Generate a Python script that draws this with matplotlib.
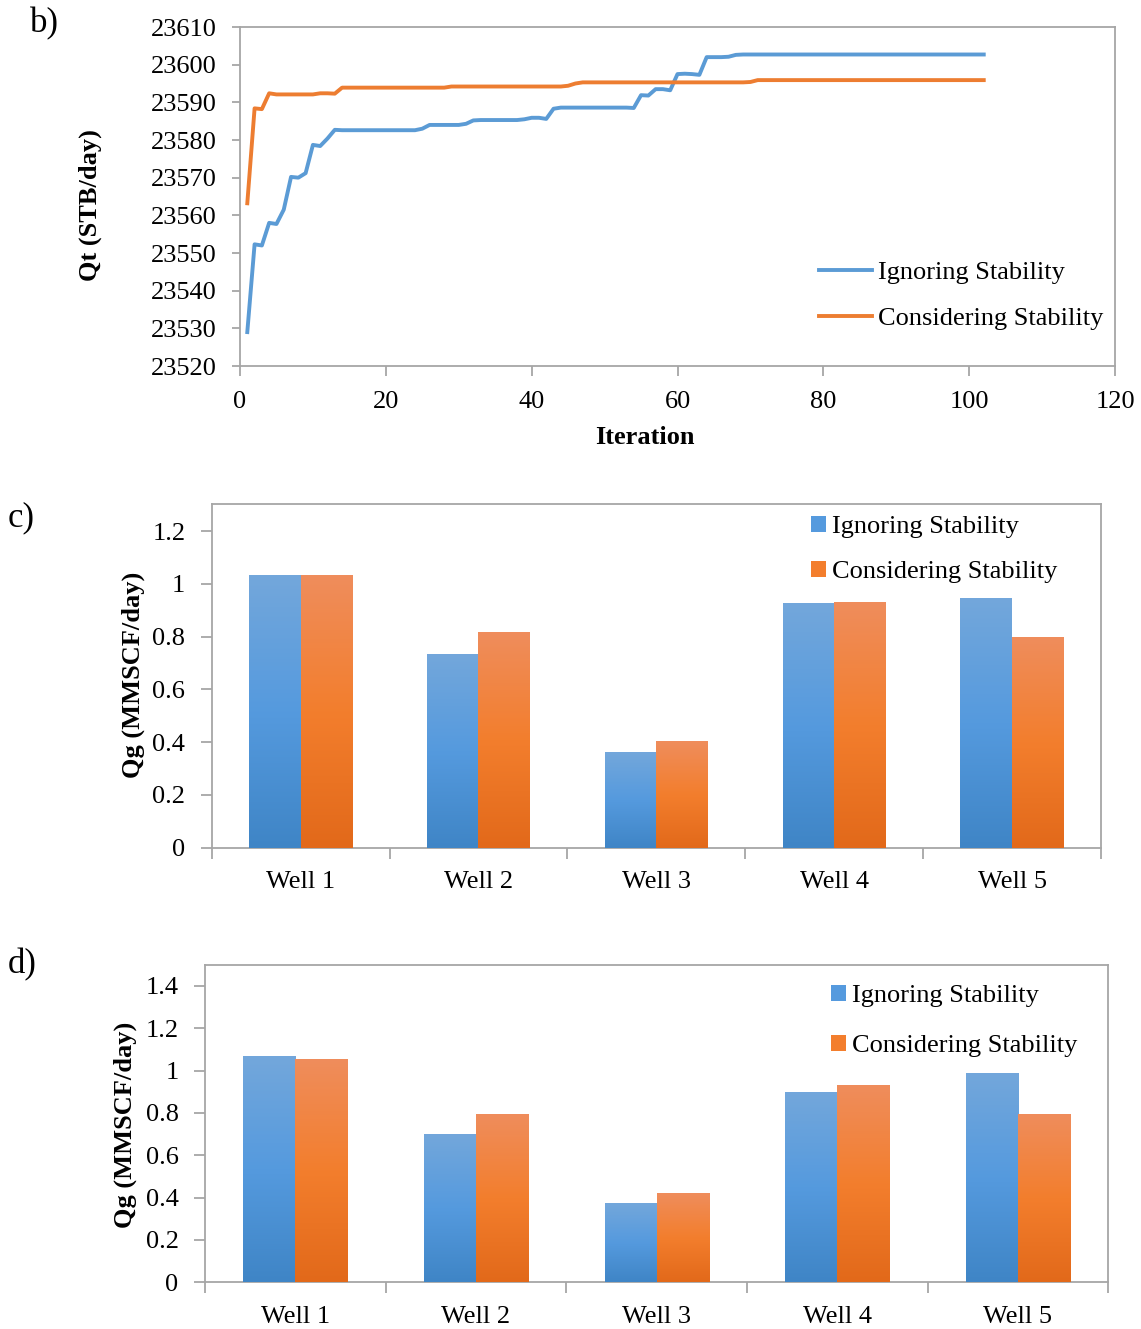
import numpy as np
import matplotlib
matplotlib.use("Agg")
import matplotlib.pyplot as plt
from matplotlib.colors import LinearSegmentedColormap
from matplotlib.patches import Patch, Shadow

plt.rcParams['font.family'] = ['Liberation Serif', 'DejaVu Serif']
plt.rcParams['font.size'] = 19

# b) caudal total por iteración
iteracion = np.arange(1, 103)
qt_ignoring = [
    23529.0, 23552.3, 23552.0, 23558.0, 23557.7, 23561.5, 23570.2, 23570.0, 23571.2, 23578.7,
    23578.4, 23580.4, 23582.7, 23582.6, 23582.6, 23582.6, 23582.6, 23582.6, 23582.6, 23582.6,
    23582.6, 23582.6, 23582.6, 23582.6, 23583.0, 23584.0, 23584.0, 23584.0, 23584.0, 23584.0,
    23584.3, 23585.2, 23585.3, 23585.3, 23585.3, 23585.3, 23585.3, 23585.3, 23585.5, 23585.9,
    23585.9, 23585.6, 23588.3, 23588.6, 23588.6, 23588.6, 23588.6, 23588.6, 23588.6, 23588.6,
    23588.6, 23588.6, 23588.6, 23588.5, 23591.9, 23591.8, 23593.5, 23593.5, 23593.2, 23597.5,
    23597.6, 23597.5, 23597.3, 23602.0, 23602.0, 23602.0, 23602.1, 23602.6, 23602.7, 23602.7,
    23602.7, 23602.7, 23602.7, 23602.7, 23602.7, 23602.7, 23602.7, 23602.7, 23602.7, 23602.7,
    23602.7, 23602.7, 23602.7, 23602.7, 23602.7, 23602.7, 23602.7, 23602.7, 23602.7, 23602.7,
    23602.7, 23602.7, 23602.7, 23602.7, 23602.7, 23602.7, 23602.7, 23602.7, 23602.7, 23602.7,
    23602.7, 23602.7,
]
qt_considering = [
    23563.2, 23588.4, 23588.2, 23592.4, 23592.1, 23592.1, 23592.1, 23592.1, 23592.1, 23592.1,
    23592.4, 23592.4, 23592.3, 23593.9, 23593.9, 23593.9, 23593.9, 23593.9, 23593.9, 23593.9,
    23593.9, 23593.9, 23593.9, 23593.9, 23593.9, 23593.9, 23593.9, 23593.9, 23594.2, 23594.2,
    23594.2, 23594.2, 23594.2, 23594.2, 23594.2, 23594.2, 23594.2, 23594.2, 23594.2, 23594.2,
    23594.2, 23594.2, 23594.2, 23594.2, 23594.4, 23595.0, 23595.3, 23595.3, 23595.3, 23595.3,
    23595.3, 23595.3, 23595.3, 23595.3, 23595.3, 23595.3, 23595.3, 23595.3, 23595.3, 23595.3,
    23595.3, 23595.3, 23595.3, 23595.3, 23595.3, 23595.3, 23595.3, 23595.3, 23595.3, 23595.4,
    23595.9, 23595.9, 23595.9, 23595.9, 23595.9, 23595.9, 23595.9, 23595.9, 23595.9, 23595.9,
    23595.9, 23595.9, 23595.9, 23595.9, 23595.9, 23595.9, 23595.9, 23595.9, 23595.9, 23595.9,
    23595.9, 23595.9, 23595.9, 23595.9, 23595.9, 23595.9, 23595.9, 23595.9, 23595.9, 23595.9,
    23595.9, 23595.9,
]

# c) y d) caudal de gas por pozo
pozos = ['Well 1', 'Well 2', 'Well 3', 'Well 4', 'Well 5']
qg_c_ignoring = [1.032, 0.734, 0.363, 0.926, 0.946]
qg_c_considering = [1.032, 0.816, 0.404, 0.931, 0.798]
qg_d_ignoring = [1.063, 0.696, 0.373, 0.893, 0.987]
qg_d_considering = [1.049, 0.789, 0.416, 0.930, 0.789]

azul = '#5b9bd5'
naranja = '#ed7d31'
gris = '#a6a6a6'
azul_grad = ['#3f85c6', '#559ade', '#73a7db']
naranja_grad = ['#e2691a', '#f37e2d', '#ef8d5c']

W, H = 1141, 1329
fig = plt.figure(figsize=(W / 100, H / 100), dpi=100)


def caja(ax):
    for s in ax.spines.values():
        s.set_color(gris)
        s.set_linewidth(1.3)


def barras_degradado(ax, barras, colores):
    cmap = LinearSegmentedColormap.from_list('g', colores)
    grad = np.linspace(0, 1, 256).reshape(-1, 1)
    for b in barras:
        x0, y0 = b.get_x(), b.get_y()
        w, h = b.get_width(), b.get_height()
        sombra = Shadow(b, 2.0, -1.5, facecolor='0.35', edgecolor='none', alpha=0.18)
        sombra.set_zorder(1.5)
        ax.add_patch(sombra)
        ax.imshow(grad, extent=(x0, x0 + w, y0, y0 + h), origin='lower',
                  cmap=cmap, aspect='auto', zorder=3)
        b.set_facecolor('none')


# --- b) ---
ax1 = fig.add_axes([240 / W, 1 - 366 / H, 875 / W, 339 / H])
ax1.plot(iteracion, qt_ignoring, color=azul, lw=2.8, label='Ignoring Stability')
ax1.plot(iteracion, qt_considering, color=naranja, lw=2.8, label='Considering Stability')
ax1.set_xlim(0, 120)
ax1.set_ylim(23520, 23610)
ax1.set_xticks(np.arange(0, 121, 20))
ax1.set_yticks(np.arange(23520, 23611, 10))
ax1.tick_params(axis='y', length=6, width=1.3, color=gris, pad=11)
ax1.tick_params(axis='x', length=7, width=1.3, color=gris, pad=11)
caja(ax1)
ax1.legend(loc='upper left', bbox_to_anchor=(819 / W, 1 - 261 / H),
           bbox_transform=fig.transFigure, frameon=False, borderpad=0,
           borderaxespad=0, handlelength=2.0, handletextpad=0.25,
           labelspacing=0.85)
fig.text(645 / W, 1 - 437 / H, 'Iteration', ha='center', va='center', weight='bold')
fig.text(90 / W, 1 - 205 / H, 'Qt (STB/day)', ha='center', va='center',
         rotation=90, weight='bold')
fig.text(30 / W, 1 - 24 / H, 'b)', ha='left', va='center', fontsize=25)


def grafico_barras(ax, ign, con, ymax, yticks, ancho, ley_xy, espacio):
    x = np.arange(len(pozos))
    b1 = ax.bar(x - ancho / 2, ign, ancho, color='none', zorder=3)
    b2 = ax.bar(x + ancho / 2, con, ancho, color='none', zorder=3)
    barras_degradado(ax, b1, azul_grad)
    barras_degradado(ax, b2, naranja_grad)
    ax.set_xlim(-0.5, len(pozos) - 0.5)
    ax.set_ylim(0, ymax)
    ax.set_yticks(yticks)
    ax.set_yticklabels([f'{v:g}' for v in yticks])
    ax.set_xticks(x)
    ax.set_xticklabels(pozos)
    ax.set_xticks(np.arange(-0.5, len(pozos)), minor=True)
    ax.tick_params(axis='x', which='major', length=0, pad=17)
    ax.tick_params(axis='x', which='minor', length=8, width=1.3, color=gris)
    ax.tick_params(axis='y', length=8, width=1.3, color=gris, pad=11)
    caja(ax)
    manejadores = [Patch(facecolor=azul_grad[1], edgecolor='none'),
                   Patch(facecolor=naranja_grad[1], edgecolor='none')]
    ax.legend(manejadores, ['Ignoring Stability', 'Considering Stability'],
              loc='upper left', bbox_to_anchor=(ley_xy[0] / W, 1 - ley_xy[1] / H),
              bbox_transform=fig.transFigure, frameon=False, borderpad=0,
              borderaxespad=0, handlelength=0.55, handleheight=0.55,
              handletextpad=0.25, labelspacing=espacio)


# --- c) ---
ax2 = fig.add_axes([211.7 / W, 1 - 847.7 / H, 889.3 / W, 343.4 / H])
grafico_barras(ax2, qg_c_ignoring, qg_c_considering, 1.302,
               [0, 0.2, 0.4, 0.6, 0.8, 1, 1.2], 0.29, (811, 516), 0.85)
fig.text(133 / W, 1 - 675 / H, 'Qg (MMSCF/day)', ha='center', va='center',
         rotation=90, weight='bold')
fig.text(8 / W, 1 - 518 / H, 'c)', ha='left', va='center', fontsize=25)

# --- d) ---
ax3 = fig.add_axes([205 / W, 1 - 1282.3 / H, 903.3 / W, 317.3 / H])
grafico_barras(ax3, qg_d_ignoring, qg_d_considering, 1.499,
               [0, 0.2, 0.4, 0.6, 0.8, 1, 1.2, 1.4], 0.288, (831, 985), 1.04)
fig.text(125 / W, 1 - 1125 / H, 'Qg (MMSCF/day)', ha='center', va='center',
         rotation=90, weight='bold')
fig.text(8 / W, 1 - 965 / H, 'd)', ha='left', va='center', fontsize=25)

fig.savefig('out.png', dpi=100)
